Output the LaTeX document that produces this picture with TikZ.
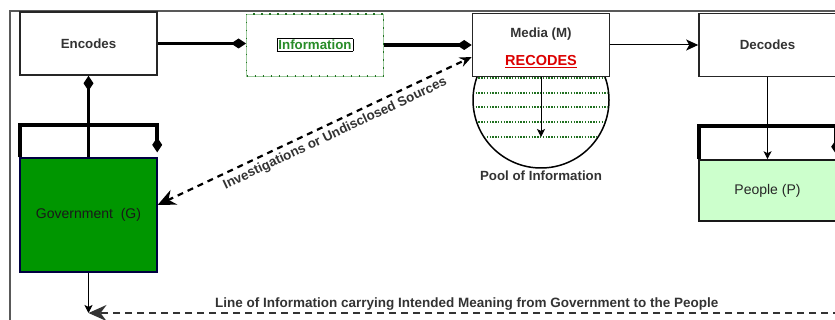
\documentclass[tikz,border=0pt]{standalone}
\usepackage{fontspec}
\setmainfont{Liberation Sans}
\usepackage{xcolor}
\usetikzlibrary{arrows.meta,positioning,calc}
\definecolor{govgreen}{RGB}{0,150,0}
\definecolor{peoplegreen}{RGB}{204,255,204}
\definecolor{textgray}{RGB}{51,51,51}
\definecolor{infogreen}{RGB}{40,140,40}
\definecolor{recodered}{RGB}{220,0,0}

\begin{document}
\begin{tikzpicture}[x=1pt, y=-1pt,
labelbox/.style={rectangle, draw=black!85, line width=1.6pt, fill=white, minimum width=137pt, minimum height=63pt, inner sep=0pt, text=textgray, font=\fontsize{13.3}{15}\selectfont\bfseries},
infobox/.style={rectangle, draw=infogreen!45, line width=0.8pt, fill=white, minimum width=137pt, minimum height=62pt, postaction={draw=infogreen!80!black, line width=1.5pt, dash pattern=on 1.5pt off 6.5pt}},
govbox/.style={rectangle, draw=blue!25!black, line width=1.2pt, fill=govgreen, minimum width=137pt, minimum height=114pt, text=black!90, font=\fontsize{14}{16}\selectfont},
peoplebox/.style={rectangle, draw=black!90, line width=1.6pt, fill=peoplegreen, minimum width=137pt, minimum height=61pt, text=black!85, font=\fontsize{14}{16}\selectfont},
headbox/.style={rectangle, minimum width=137pt, inner sep=0pt},
poolnode/.style={circle, draw=black, line width=1.5pt, minimum size=136pt, inner sep=0pt},
plaintext/.style={text=textgray, font=\fontsize{13.3}{15}\selectfont\bfseries, inner sep=1pt},
heavy/.style={line width=3.5pt, -{Diamond[length=15pt,width=10pt]}},
thinarrow/.style={line width=1pt, -{Stealth[length=12pt,width=11pt,inset=3pt]}},
smallarrow/.style={line width=0.9pt, -{Stealth[length=8pt,width=8pt,inset=2pt]}},
dashlink/.style={line width=2.2pt, dash pattern=on 6pt off 5pt, {Stealth[length=18pt,width=16pt,inset=6pt]}-{Stealth[length=12pt,width=10pt,inset=4pt]}},
meaningline/.style={draw=black!80, line width=2pt, dash pattern=on 7pt off 5pt, {Stealth[length=8pt,width=10pt]}-{Stealth[length=18pt,width=16pt,inset=6pt]}},
poolline/.style={draw=infogreen!80!black, line width=1.3pt, dash pattern=on 1.3pt off 1.5pt},
]
\useasboundingbox (0,0) rectangle (835,320);

%Frame
\draw[gray!70!black, line width=1.2pt] (10,320) -- (10,11) -- (835,11);

%Nodes
\node[labelbox]  (encodes)  at (88.5,43.5) {Encodes};
\node[infobox]   (info)     at (315,45)
  {\fontsize{13.3}{15}\selectfont\bfseries\setlength{\fboxsep}{1pt}\setlength{\fboxrule}{0.8pt}\fbox{\textcolor{infogreen}{Information}}};
\node[poolnode]  (pool)     at (541,100) {};
\node[plaintext] (poolText) [below=1pt of pool] {Pool of Information};

%Pool lines
\begin{scope}
\clip (pool.center) circle (67pt);
\foreach \ly in {78,93,107,122,137}
  \draw[poolline] (470,\ly) -- (612,\ly);
\end{scope}

\node[labelbox, align=center] (media) at (541,45)
  {\rule{0pt}{15pt}Media (M)\\[13pt]{\fontsize{14.5}{16}\selectfont\color{recodered}\underline{RECODES}}};
\node[labelbox]  (decodes)  at (767.5,45) {Decodes};

\node[govbox]    (gov)      at (88.5,215) {Government\ \ (G)};
\node[headbox, minimum height=32pt] (gHead) [above=0pt of gov] {};
\node[peoplebox] (people)   at (767.5,190.5) {People (P)};
\node[headbox, minimum height=33pt] (pHead) [above=0pt of people] {};

\coordinate (poolEnd)   at (541,137);
\coordinate (lineStart) at (88.5,313);
\coordinate (lineEnd)   at (845,313);

%Lines
\draw[heavy] (encodes.east) -- (encodes.east -| info.west);
\draw[heavy] (info.east) -- (media.west);
\draw[thinarrow] (media.east) -- (decodes.west);
\draw[smallarrow] (media.south) -- (poolEnd);
\draw[heavy] (gHead.south west) -- (gHead.north west) -- (gHead.north east) -- ([yshift=5pt]gHead.south east);
\draw[heavy] (gHead.south) -- (encodes.south);
\draw[heavy] (pHead.south west) -- (pHead.north west) -- (pHead.north east) -- ([yshift=5pt]pHead.south east);
\draw[smallarrow] (decodes.south) -- (people.north);
\draw[dashlink] ([yshift=10pt]gov.east) -- ([yshift=-12pt]media.west)
  node[pos=0.55, below=3pt, sloped, plaintext] {Investigations or Undisclosed Sources};
\draw[smallarrow] (gov.south) -- (lineStart);
\draw[meaningline] (lineEnd) -- (lineStart)
  node[midway, above=1pt, plaintext, font=\fontsize{13.5}{15}\selectfont\bfseries] {Line of Information carrying Intended Meaning from Government to the People};
\end{tikzpicture}
\end{document}
